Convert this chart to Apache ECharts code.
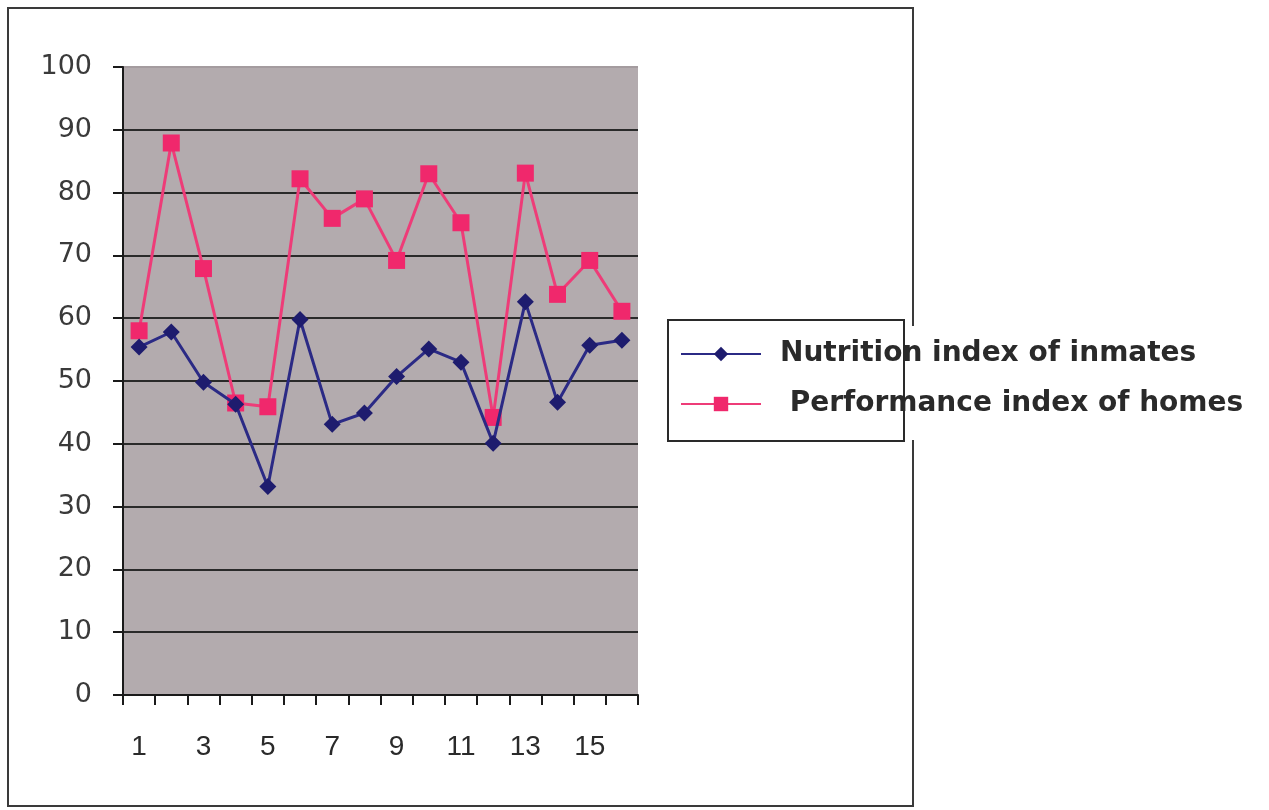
<!DOCTYPE html>
<html>
<head>
<meta charset="utf-8">
<title>Nutrition and performance index</title>
<script src="https://cdn.jsdelivr.net/npm/echarts@6/dist/echarts.min.js"></script>
<style>
  html, body { margin: 0; padding: 0; background: #ffffff; }
  #chart { width: 1269px; height: 810px; }
</style>
</head>
<body>
<div id="chart"></div>
<script>
// Homes numbered 1..16
const categories = ['1','2','3','4','5','6','7','8','9','10','11','12','13','14','15','16'];
const nutritionIndex = [55.4, 57.8, 49.8, 46.3, 33.2, 59.8, 43.1, 44.9, 50.7, 55.1, 53.0, 40.1, 62.6, 46.6, 55.7, 56.5];
const performanceIndex = [58.0, 87.9, 67.9, 46.5, 45.9, 82.2, 75.9, 79.0, 69.2, 83.0, 75.2, 44.2, 83.1, 63.8, 69.2, 61.1];
const seriesNames = ['Nutrition index of inmates', ' Performance index of homes'];

const chart = echarts.init(document.getElementById('chart'), null, { renderer: 'canvas' });

const gridLineColors = ['#2a2a2a','#2a2a2a','#2a2a2a','#2a2a2a','#2a2a2a','#2a2a2a','#2a2a2a','#2a2a2a','#2a2a2a','#2a2a2a','#a49c9f'];

chart.setOption({
  animation: false,
  backgroundColor: '#ffffff',
  graphic: [
    // outer frame of the chart
    { type: 'rect', z: 0, shape: { x: 8, y: 8, width: 905, height: 798 },
      style: { fill: 'none', stroke: '#3a3a3a', lineWidth: 2 } },
    // legend box, its text runs past the frame
    { type: 'rect', z: 1, shape: { x: 668, y: 320, width: 236, height: 121 },
      style: { fill: '#ffffff', stroke: '#2a2a2a', lineWidth: 2 } },
    { type: 'rect', z: 1, shape: { x: 905, y: 326, width: 14, height: 114 },
      style: { fill: '#ffffff', stroke: 'none' } }
  ],
  grid: {
    left: 123, top: 67, width: 515, height: 628,
    show: true, backgroundColor: '#b3abae', borderWidth: 0
  },
  legend: {
    orient: 'vertical',
    left: 680, top: 339, padding: 0,
    itemWidth: 80, itemHeight: 18, itemGap: 20,
    textStyle: {
      fontFamily: 'DejaVu Sans', fontWeight: 'bold', fontSize: 28,
      color: '#2a2a2a', lineHeight: 30, padding: [0, 0, 0, 14]
    },
    data: seriesNames
  },
  xAxis: {
    type: 'category',
    data: categories,
    boundaryGap: true,
    axisLine: { show: true, lineStyle: { color: '#1a1a1a', width: 2 } },
    axisTick: { show: true, interval: 0, length: 10, lineStyle: { color: '#1a1a1a', width: 2 } },
    axisLabel: {
      interval: 1, margin: 38,
      fontFamily: 'Liberation Sans', fontSize: 28, color: '#2a2a2a'
    },
    splitLine: { show: false }
  },
  yAxis: {
    type: 'value',
    min: 0, max: 100, interval: 10,
    axisLine: { show: true, lineStyle: { color: '#1a1a1a', width: 2 } },
    axisTick: { show: true, length: 10, lineStyle: { color: '#1a1a1a', width: 2 } },
    axisLabel: {
      margin: 31,
      fontFamily: 'DejaVu Sans', fontSize: 27, color: '#3a3a3a'
    },
    splitLine: { show: true, lineStyle: { color: gridLineColors, width: 2 } }
  },
  series: [
    {
      name: seriesNames[0],
      type: 'line',
      data: nutritionIndex,
      symbol: 'diamond', symbolSize: 17,
      lineStyle: { color: '#2b2a85', width: 3 },
      itemStyle: { color: '#1e1c6e' },
      z: 3
    },
    {
      name: seriesNames[1],
      type: 'line',
      data: performanceIndex,
      symbol: 'rect', symbolSize: 17,
      lineStyle: { color: '#ee3c78', width: 3 },
      itemStyle: { color: '#f0286c' },
      z: 2
    }
  ]
});
</script>
</body>
</html>
